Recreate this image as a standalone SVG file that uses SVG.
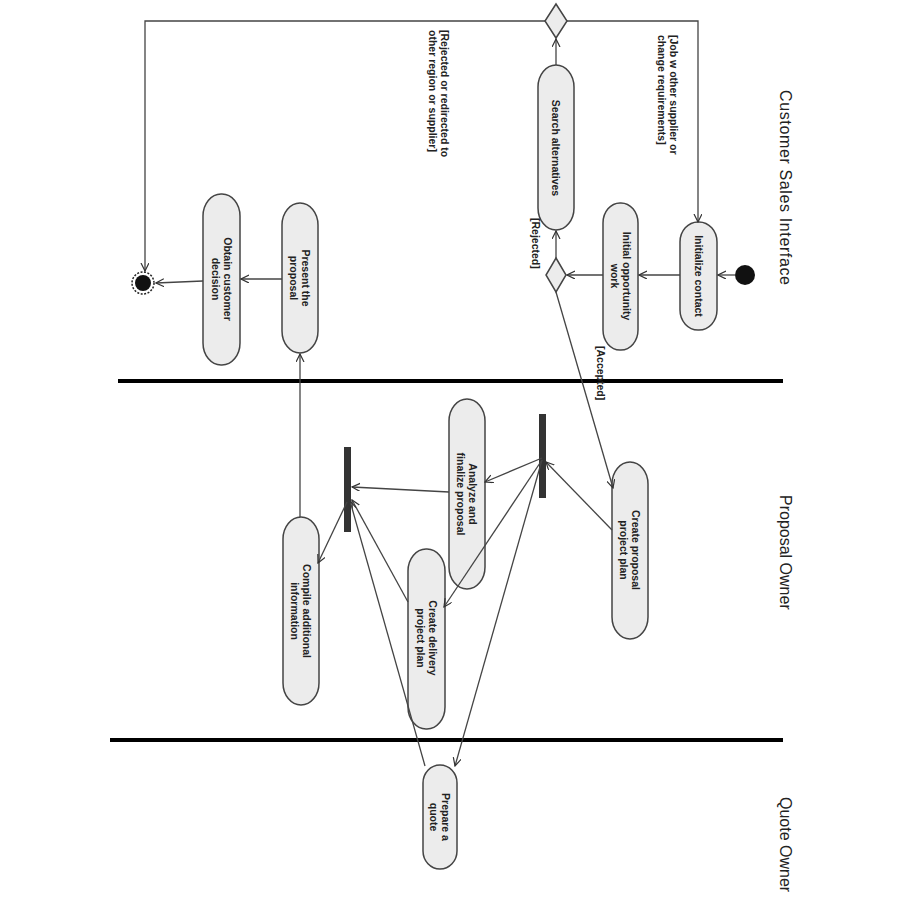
<svg xmlns="http://www.w3.org/2000/svg" width="900" height="900" viewBox="0 0 900 900">
<defs>
<marker id="arr" markerWidth="9" markerHeight="9" refX="8" refY="4" orient="auto" markerUnits="userSpaceOnUse">
<path d="M0,0 L8,4 L0,8" fill="none" stroke="#333" stroke-width="1.2"/>
</marker>
</defs>
<style>
.act{fill:#ececec;stroke:#444;stroke-width:1.5}
.t{font-family:"Liberation Sans",Arial,sans-serif;font-size:10.5px;font-weight:bold;fill:#222}
.g{font-family:"Liberation Sans",Arial,sans-serif;font-size:10.5px;font-weight:bold;fill:#222}
.lane{font-family:"Liberation Sans",Arial,sans-serif;font-size:16px;fill:#222}
.sep{stroke:#000;stroke-width:4}
.c{fill:none;stroke:#444;stroke-width:1.3;marker-end:url(#arr)}
.bar{fill:#333}
</style>
<rect width="900" height="900" fill="#fff"/>
<g id="lanes">
<line class="sep" x1="118" y1="381" x2="783" y2="381"/>
<line class="sep" x1="110" y1="740" x2="783" y2="740"/>
<text class="lane" transform="translate(780,90) rotate(90)" textLength="195">Customer Sales Interface</text>
<text class="lane" transform="translate(780,495) rotate(90)">Proposal Owner</text>
<text class="lane" transform="translate(780,797) rotate(90)">Quote Owner</text>
</g>
<g id="start"><circle cx="745" cy="275" r="10" fill="#111"/></g>
<g id="initialize-contact">
<rect class="act" x="680" y="222" width="37" height="108" rx="18" ry="20"/>
<text class="t" text-anchor="middle" transform="translate(698.5,276) rotate(90)" y="4">Initialize contact</text>
</g>
<g id="initial-opportunity-work">
<rect class="act" x="603" y="203" width="35" height="147" rx="17" ry="20"/>
<text class="t" text-anchor="middle" transform="translate(620.5,276) rotate(90)"><tspan x="0" y="-2">Initial opportunity</tspan><tspan x="0" y="10">work</tspan></text>
</g>
<g id="decision-1"><polygon points="556,258 566,275 556,292 546,275" class="act"/></g>
<g id="search-alternatives">
<rect class="act" x="538" y="65" width="36" height="165" rx="18" ry="22"/>
<text class="t" text-anchor="middle" transform="translate(556,148) rotate(90)" y="4">Search alternatives</text>
</g>
<g id="decision-2"><polygon points="556,4 567,21 556,38 545,21" class="act"/></g>
<g id="create-proposal-project-plan">
<rect class="act" x="612" y="462" width="36" height="177" rx="18" ry="22"/>
<text class="t" text-anchor="middle" transform="translate(630,550) rotate(90)"><tspan x="0" y="-2">Create proposal</tspan><tspan x="0" y="10">project plan</tspan></text>
</g>
<g id="fork-1"><rect class="bar" x="539" y="414" width="7" height="84"/></g>
<g id="analyze-finalize-proposal">
<rect class="act" x="449" y="399" width="36" height="190" rx="18" ry="22"/>
<text class="t" text-anchor="middle" transform="translate(467,494) rotate(90)"><tspan x="0" y="-2">Analyze and</tspan><tspan x="0" y="10">finalize proposal</tspan></text>
</g>
<g id="create-delivery-project-plan">
<rect class="act" x="408" y="549" width="37" height="180" rx="18" ry="22"/>
<text class="t" text-anchor="middle" transform="translate(426.5,638) rotate(90)"><tspan x="0" y="-2">Create delivery</tspan><tspan x="0" y="10">project plan</tspan></text>
</g>
<g id="join-2"><rect class="bar" x="344" y="447" width="7" height="85"/></g>
<g id="compile-additional-information">
<rect class="act" x="283" y="517" width="36" height="188" rx="18" ry="22"/>
<text class="t" text-anchor="middle" transform="translate(301,611) rotate(90)"><tspan x="0" y="-2">Compile additional</tspan><tspan x="0" y="10">information</tspan></text>
</g>
<g id="present-proposal">
<rect class="act" x="282" y="203" width="36" height="150" rx="18" ry="22"/>
<text class="t" text-anchor="middle" transform="translate(300,278) rotate(90)"><tspan x="0" y="-2">Present the</tspan><tspan x="0" y="10">proposal</tspan></text>
</g>
<g id="obtain-customer-decision">
<rect class="act" x="203" y="194" width="37" height="171" rx="18" ry="22"/>
<text class="t" text-anchor="middle" transform="translate(221.5,279) rotate(90)"><tspan x="0" y="-2">Obtain customer</tspan><tspan x="0" y="10">decision</tspan></text>
</g>
<g id="final">
<circle cx="143" cy="283" r="11" fill="#fff" stroke="#222" stroke-width="1.5" stroke-dasharray="2 1.5"/>
<circle cx="143" cy="283" r="8" fill="#111"/>
</g>
<g id="prepare-quote">
<rect class="act" x="423" y="765" width="34" height="104" rx="17" ry="18"/>
<text class="t" text-anchor="middle" transform="translate(440,817) rotate(90)"><tspan x="0" y="-2">Prepare a</tspan><tspan x="0" y="10">quote</tspan></text>
</g>
<g id="connectors">
<path class="c" d="M735,275 L718,275"/>
<path class="c" d="M680,275 L639,275"/>
<path class="c" d="M603,275 L567,275"/>
<path class="c" d="M556,258 L556,231"/>
<path class="c" d="M556,65 L556,39"/>
<path class="c" d="M567,21 L698,21 L698,222"/>
<path class="c" d="M545,21 L145,21 L145,271"/>
<path class="c" d="M556,292 L613,488"/>
<path class="c" d="M612,530 L546,462"/>
<path class="c" d="M542,458 L485,482"/>
<path class="c" d="M542,460 L444,607"/>
<path class="c" d="M542,460 L455,766"/>
<path class="c" d="M449,492 L352,487"/>
<path class="c" d="M408,602 L352,500"/>
<path class="c" d="M425,766 L350,501"/>
<path class="c" d="M347,502 L318,563"/>
<path class="c" d="M300,517 L300,354"/>
<path class="c" d="M282,279 L241,279"/>
<path class="c" d="M203,281 L156,283"/>
<text class="g" transform="translate(670,35) rotate(90)"><tspan x="0" y="0">[Job w other supplier or</tspan><tspan x="0" y="12">change requirements]</tspan></text>
<text class="g" transform="translate(441,30) rotate(90)"><tspan x="0" y="0">[Rejected or redirected to</tspan><tspan x="0" y="12">other region or supplier]</tspan></text>
<text class="g" transform="translate(532,218) rotate(90)">[Rejected]</text>
<text class="g" transform="translate(597,346) rotate(90)">[Accepted]</text>
</g>
</svg>
